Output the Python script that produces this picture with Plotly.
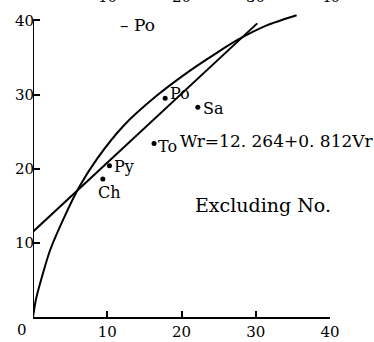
import plotly.graph_objects as go

# ---- data ----
POINT_NAMES = ["Po", "Sa", "To", "Py", "Ch"]
POINT_VR = [17.8, 22.2, 16.3, 10.3, 9.4]
POINT_WR = [29.5, 28.3, 23.4, 20.4, 18.6]

CURVE_VR = [0, 0.4, 1.2, 2.3, 4.0, 6.2, 8.6, 12.2, 16.6, 21.1, 24.7, 27.6, 31.4, 35.5]
CURVE_WR = [0, 2.4, 5.4, 9.0, 13.0, 17.5, 21.3, 25.8, 29.8, 33.2, 35.6, 37.4, 39.3, 40.7]

LINE_VR = [0, 30.2]
LINE_WR = [11.5, 39.6]

X_TICKS = [10, 20, 30, 40]
Y_TICKS = [10, 20, 30, 40]
TOP_TICKS = [10, 20, 30, 40]   # cut-off labels of the chart above

EQUATION = "Wr=12. 264+0. 812Vr"
NOTE = "Excluding No."
LEGEND_TEXT = "– Po"

# ---- styling ----
FONT = "DejaVu Serif"
BLACK = "black"
LABEL_STYLE = {
    "Po": dict(xanchor="left", xshift=3, yshift=5),
    "Sa": dict(xanchor="left", xshift=3, yshift=-1),
    "To": dict(xanchor="left", xshift=2, yshift=-3),
    "Py": dict(xanchor="left", xshift=3, yshift=-1),
    "Ch": dict(xanchor="center", xshift=7, yshift=-13),
}

fig = go.Figure()

fig.add_trace(go.Scatter(x=CURVE_VR, y=CURVE_WR, mode="lines",
                         line=dict(color=BLACK, width=2, shape="spline", smoothing=0.8),
                         hoverinfo="skip", showlegend=False))
fig.add_trace(go.Scatter(x=LINE_VR, y=LINE_WR, mode="lines",
                         line=dict(color=BLACK, width=2),
                         hoverinfo="skip", showlegend=False))
fig.add_trace(go.Scatter(x=POINT_VR, y=POINT_WR, mode="markers",
                         marker=dict(color=BLACK, size=5),
                         hoverinfo="skip", showlegend=False, cliponaxis=False))

annotations = []
for name, vx, vy in zip(POINT_NAMES, POINT_VR, POINT_WR):
    st = LABEL_STYLE[name]
    annotations.append(dict(x=vx, y=vy, xref="x", yref="y", text=name, showarrow=False,
                            yanchor="middle", font=dict(family=FONT, size=16, color=BLACK), **st))

annotations.append(dict(x=19.5, y=23.7, xref="x", yref="y", text=EQUATION, showarrow=False,
                        xanchor="left", yanchor="middle",
                        font=dict(family=FONT, size=17, color=BLACK)))
annotations.append(dict(x=21.5, y=15.1, xref="x", yref="y", text=NOTE, showarrow=False,
                        xanchor="left", yanchor="middle",
                        font=dict(family=FONT, size=19, color=BLACK)))
annotations.append(dict(x=11.4, y=39.4, xref="x", yref="y", text=LEGEND_TEXT, showarrow=False,
                        xanchor="left", yanchor="middle",
                        font=dict(family=FONT, size=17, color=BLACK)))
annotations.append(dict(x=0, y=0, xref="x", yref="y", text="0", showarrow=False,
                        xanchor="right", yanchor="top", xshift=-4, yshift=-2,
                        font=dict(family=FONT, size=15, color=BLACK)))
for t in TOP_TICKS:
    annotations.append(dict(x=t, y=1.016, xref="x", yref="paper", text=str(t), showarrow=False,
                            xanchor="center", yanchor="bottom",
                            font=dict(family=FONT, size=15, color=BLACK)))

fig.update_layout(
    width=374, height=342,
    margin=dict(l=33, r=44, t=13, b=25),
    paper_bgcolor="white", plot_bgcolor="white",
    template="none",
    showlegend=False,
    annotations=annotations,
    shapes=[dict(type="line", xref="x", yref="y", x0=0, x1=0, y0=0, y1=max(Y_TICKS),
                 line=dict(color=BLACK, width=2), layer="above")],
    xaxis=dict(range=[0, 40], tickvals=X_TICKS, ticktext=[str(v) for v in X_TICKS],
               ticks="inside", ticklen=6, tickwidth=1.5, tickcolor=BLACK,
               showline=True, linecolor=BLACK, linewidth=2, showgrid=False, zeroline=False,
               tickfont=dict(family=FONT, size=15, color=BLACK), automargin=False),
    yaxis=dict(range=[0, 41], tickvals=Y_TICKS, ticktext=[str(v) for v in Y_TICKS],
               ticks="inside", ticklen=7, tickwidth=1.5, tickcolor=BLACK,
               showline=False, showgrid=False, zeroline=False, ticklabelstandoff=-2,
               tickfont=dict(family=FONT, size=15, color=BLACK), automargin=False),
)

fig.write_html("out.html", config={"displayModeBar": False},
               post_script="document.body.style.margin='0';document.body.style.overflow='hidden';")
